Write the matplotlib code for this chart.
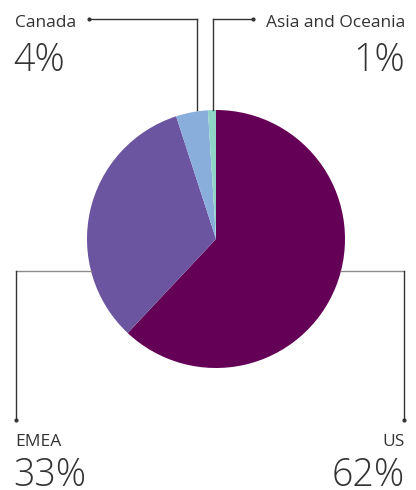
import matplotlib
matplotlib.use("Agg")
import matplotlib.pyplot as plt

regions = ["US", "EMEA", "Canada", "Asia and Oceania"]
shares = [62, 33, 4, 1]
colors = ["#650057", "#6c55a0", "#8aaedc", "#8fd4c6"]
pct_labels = ["62%", "33%", "4%", "1%"]

W, H = 416, 490
fig = plt.figure(figsize=(W / 100, H / 100), dpi=100)
ax = fig.add_axes([0, 0, 1, 1])

def Y(y):
    return H - y

cx, cy, r = 216, 239, 129
ax.pie(shares, colors=colors, startangle=90, counterclock=False,
       center=(cx, Y(cy)), radius=r, frame=True,
       wedgeprops=dict(linewidth=0))
ax.set_xlim(0, W)
ax.set_ylim(0, H)
ax.set_aspect("equal")
ax.axis("off")

lc_light = "#8c8c8c"
lc_dark = "#333333"
txt = "#333333"
fam = ["Open Sans", "DejaVu Sans"]

# Canada connector
ax.plot([197, 197], [Y(110), Y(19)], color=lc_dark, lw=1)
ax.plot([197, 89], [Y(19), Y(19)], color=lc_dark, lw=1)
ax.plot([89], [Y(19)], "o", color=lc_dark, ms=2)
# Asia connector
ax.plot([213, 213], [Y(110), Y(19)], color=lc_dark, lw=1)
ax.plot([213, 253], [Y(19), Y(19)], color=lc_dark, lw=1)
ax.plot([253], [Y(19)], "o", color=lc_dark, ms=2)
# EMEA connector
ax.plot([91, 16], [Y(271), Y(271)], color=lc_light, lw=1)
ax.plot([16, 16], [Y(271), Y(420)], color=lc_dark, lw=1)
ax.plot([16], [Y(420)], "o", color=lc_dark, ms=2)
# US connector
ax.plot([341, 404], [Y(271), Y(271)], color=lc_light, lw=1)
ax.plot([404, 404], [Y(271), Y(420)], color=lc_dark, lw=1)
ax.plot([404], [Y(420)], "o", color=lc_dark, ms=2)

name_fs = 12.5
pct_fs = 27

ax.text(15, Y(27), regions[2], ha="left", va="baseline", fontsize=name_fs, color=txt, family=fam)
ax.text(13, Y(71), pct_labels[2], ha="left", va="baseline", fontsize=pct_fs, color=txt, family=fam, fontweight=300)
ax.text(405, Y(27), regions[3], ha="right", va="baseline", fontsize=name_fs, color=txt, family=fam)
ax.text(405, Y(71), pct_labels[3], ha="right", va="baseline", fontsize=pct_fs, color=txt, family=fam, fontweight=300)
ax.text(15, Y(446), regions[1], ha="left", va="baseline", fontsize=name_fs, color=txt, family=fam)
ax.text(13, Y(486), pct_labels[1], ha="left", va="baseline", fontsize=pct_fs, color=txt, family=fam, fontweight=300)
ax.text(405, Y(446), regions[0], ha="right", va="baseline", fontsize=name_fs, color=txt, family=fam)
ax.text(405, Y(486), pct_labels[0], ha="right", va="baseline", fontsize=pct_fs, color=txt, family=fam, fontweight=300)

fig.savefig("out.png", dpi=100)
